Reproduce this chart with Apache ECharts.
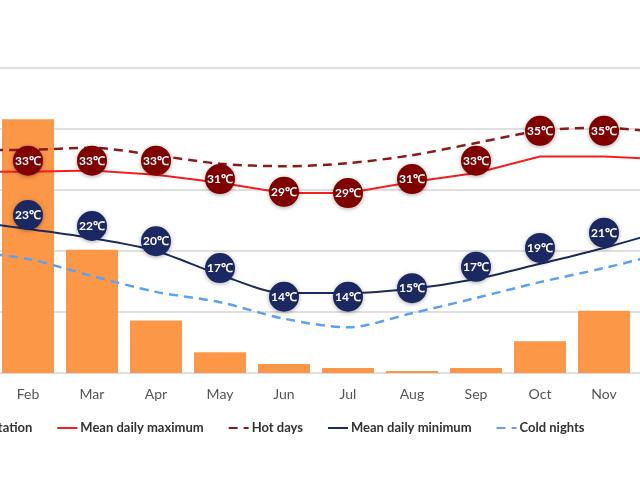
<!DOCTYPE html>
<html><head><meta charset="utf-8">
<script src="https://cdn.jsdelivr.net/npm/echarts@6/dist/echarts.min.js"></script>
<style>html,body{margin:0;background:#fff;overflow:hidden;width:640px;height:480px}#root{width:768px;height:480px;margin-left:-68px}</style>
</head><body><div id="root"></div>
<script>
const months = ['Jan','Feb','Mar','Apr','May','Jun','Jul','Aug','Sep','Oct','Nov','Dec'];
const precipitation = [190, 208, 101, 43, 17, 7.4, 4.1, 1.6, 4.1, 26, 51, 137];
const meanMax = [33, 33, 33.2, 32.5, 31.2, 29.5, 29.5, 31.3, 32.8, 35.5, 35.5, 35];
const hotDays = [36.5, 36.6, 36.9, 35.7, 34.3, 33.9, 34.4, 35.7, 37.7, 39.7, 40.2, 39.3];
const meanMin = [25, 23.6, 22.1, 20, 16.1, 13.1, 13.1, 13.8, 15.4, 17.9, 20.5, 23.5];
const coldNights = [20, 18.7, 15.9, 13.3, 11.6, 8.9, 7.5, 9.8, 12.3, 14.9, 17.2, 19.8];
// badge positions and texts
const maxBadgePos = [null, 34.8, 34.8, 34.8, 31.8, 29.7, 29.5, 31.8, 34.8, 39.7, 39.7, null];
const maxBadgeText = ['', '33', '33', '33', '31', '29', '29', '31', '33', '35', '35', ''];
const minBadgePos = [null, 25.9, 24.1, 21.6, 17.2, 12.5, 12.5, 13.9, 17.4, 20.5, 23.0, null];
const minBadgeText = ['', '23', '22', '20', '17', '14', '14', '15', '17', '19', '21', ''];

function badges(pos, text, color) {
  return {
    type: 'scatter', yAxisIndex: 0, symbolSize: 30, z: 10, silent: true,
    itemStyle: { color: color, opacity: 1, shadowBlur: 4, shadowColor: 'rgba(0,0,0,0.35)', shadowOffsetY: 1 },
    label: { show: true, position: 'inside', color: '#fff', fontFamily: 'Lato', fontSize: 12, fontWeight: 'bold',
      formatter: p => text[p.dataIndex] + '℃' },
    data: pos.map(v => v == null ? '-' : v)
  };
}

const chart = echarts.init(document.getElementById('root'));
chart.setOption({
  animation: false,
  textStyle: { fontFamily: 'Lato' },
  grid: { left: 0, right: 0, top: 68, bottom: 107 },
  legend: {
    left: -2, top: 416, itemGap: 24, itemWidth: 20, itemHeight: 14,
    itemStyle: { opacity: 0 },
    textStyle: { fontSize: 13, fontWeight: 'bold', color: '#333', fontFamily: 'Lato', padding: [0, 0, 0, -2] },
    data: ['Precipitation', 'Mean daily maximum', 'Hot days', 'Mean daily minimum', 'Cold nights']
  },
  xAxis: {
    type: 'category', data: months,
    axisLine: { lineStyle: { color: '#ddd' } }, axisTick: { show: false },
    axisLabel: { color: '#555', fontSize: 14, margin: 14 }
  },
  yAxis: [
    { type: 'value', min: 0, max: 50, interval: 10, axisLabel: { show: false },
      splitLine: { lineStyle: { color: '#e0e0e0', width: 2 } } },
    { type: 'value', min: 0, max: 250, axisLabel: { show: false }, splitLine: { show: false } }
  ],
  series: [
    { name: 'Precipitation', type: 'bar', yAxisIndex: 1, barWidth: 52, data: precipitation,
      itemStyle: { color: '#fd9748' } },
    { name: 'Mean daily maximum', type: 'line', data: meanMax, showSymbol: false, symbol: 'none',
      lineStyle: { color: '#f51f1f', width: 2 }, itemStyle: { color: '#f51f1f' } },
    { name: 'Hot days', type: 'line', data: hotDays, showSymbol: false, symbol: 'none', smooth: 0.3,
      lineStyle: { color: '#8b1a1a', width: 2.5, type: [9, 6] }, itemStyle: { color: '#8b1a1a' } },
    { name: 'Mean daily minimum', type: 'line', data: meanMin, showSymbol: false, symbol: 'none', smooth: 0.3,
      lineStyle: { color: '#1c2a5e', width: 2 }, itemStyle: { color: '#1c2a5e' } },
    { name: 'Cold nights', type: 'line', data: coldNights, showSymbol: false, symbol: 'none', smooth: 0.3,
      lineStyle: { color: '#5da2ee', width: 2.5, type: [9, 6] }, itemStyle: { color: '#5da2ee' } },
    badges(maxBadgePos, maxBadgeText, '#800000'),
    badges(minBadgePos, minBadgeText, '#1b2862')
  ]
});
</script></body></html>
